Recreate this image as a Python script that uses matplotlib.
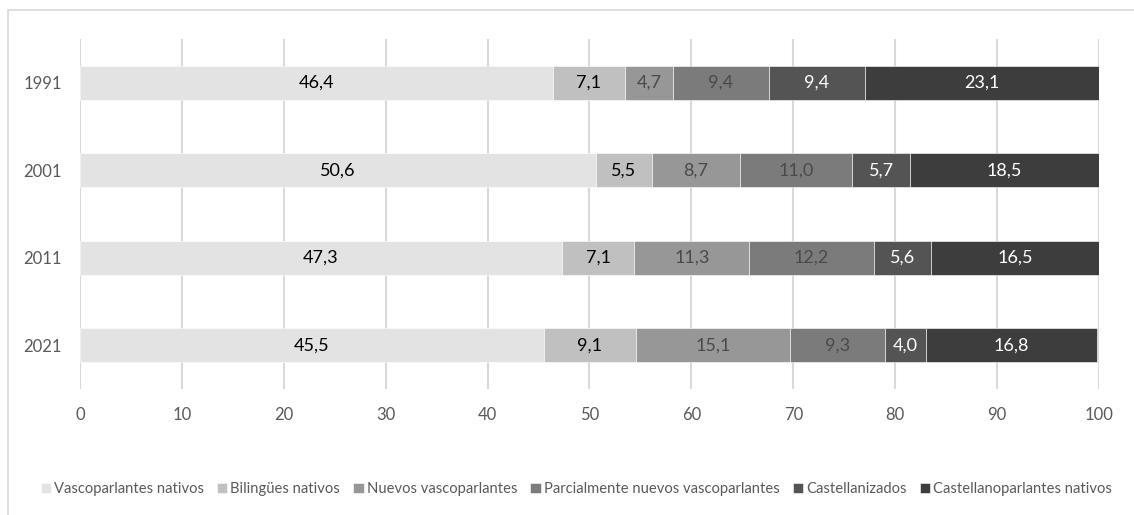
import numpy as np
import matplotlib.pyplot as plt
from matplotlib.patches import Rectangle

plt.rcParams['font.family'] = ['Lato', 'DejaVu Sans']

# datos
years = ['1991', '2001', '2011', '2021']
categories = ['Vascoparlantes nativos', 'Bilingües nativos', 'Nuevos vascoparlantes',
              'Parcialmente nuevos vascoparlantes', 'Castellanizados', 'Castellanoparlantes nativos']
vasco_nativos = [46.4, 50.6, 47.3, 45.5]
bilingues = [7.1, 5.5, 7.1, 9.1]
nuevos = [4.7, 8.7, 11.3, 15.1]
parcial = [9.4, 11.0, 12.2, 9.3]
castellanizados = [9.4, 5.7, 5.6, 4.0]
castellano_nativos = [23.1, 18.5, 16.5, 16.8]

series = [vasco_nativos, bilingues, nuevos, parcial, castellanizados, castellano_nativos]
colors = ['#e3e3e3', '#c0c0c0', '#979797', '#7b7b7b', '#545454', '#3d3d3d']
text_colors = ['black', 'black', '#4a4a4a', '#4a4a4a', 'white', 'white']

fig = plt.figure(figsize=(11.34, 5.15), dpi=100)
ax = fig.add_axes([0.0705, 0.2447, 0.8986, 0.6796])

y = np.arange(len(years))
left = np.zeros(len(years))
for vals, name, c, tc in zip(series, categories, colors, text_colors):
    vals = np.array(vals)
    bars = ax.barh(y, vals, left=left, height=0.39, color=c, label=name,
                   edgecolor='white', linewidth=0.4, zorder=3)
    ax.bar_label(bars, labels=[f'{v:.1f}'.replace('.', ',') for v in vals],
                 label_type='center', color=tc, fontsize=13)
    left += vals

ax.set_xlim(0, 100)
ax.set_ylim(3.5, -0.5)
ax.set_xticks(np.arange(0, 101, 10))
ax.set_yticks(y)
ax.set_yticklabels(years)
ax.grid(axis='x', color='#d9d9d9', linewidth=1.5, zorder=0)
ax.tick_params(length=0, labelsize=12, labelcolor='#595959')
ax.tick_params(axis='x', pad=13)
ax.tick_params(axis='y', pad=13)
for s in ax.spines.values():
    s.set_visible(False)

fig.legend(loc='center', bbox_to_anchor=(0.508, 0.05), ncol=6, frameon=False,
           fontsize=10.6, handlelength=0.7, handleheight=0.7, handletextpad=0.2,
           columnspacing=0.9, labelcolor='#595959')

fig.patches.append(Rectangle((8 / 1134, -0.1), 1.2, 1.1 - 10 / 515, transform=fig.transFigure,
                             fill=False, edgecolor='#d9d9d9', linewidth=1.2))

fig.savefig('out.png', dpi=100)
